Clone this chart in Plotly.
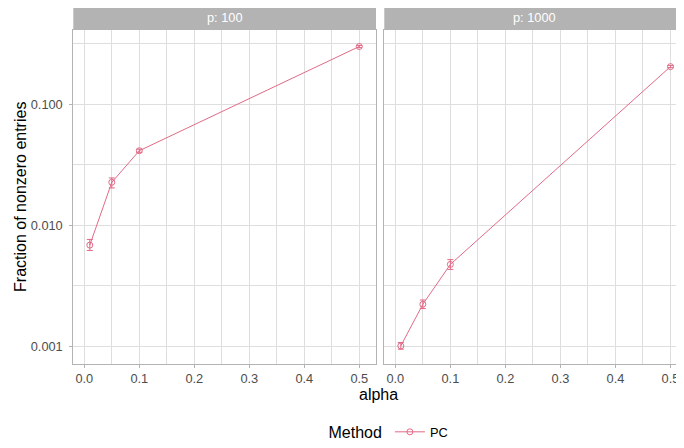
import plotly.graph_objects as go

# ---- data ----
alpha = [0.01, 0.05, 0.1, 0.5]
p100_mean = [0.00684, 0.0226, 0.0412, 0.299]
p100_upper = [0.00762, 0.02455, 0.0424, 0.305]
p100_lower = [0.00618, 0.0203, 0.0400, 0.293]
p1000_mean = [0.001006, 0.00222, 0.00474, 0.204]
p1000_upper = [0.001073, 0.00241, 0.00519, 0.208]
p1000_lower = [0.000945, 0.002047, 0.00431, 0.200]
panel_labels = ["p: 100", "p: 1000"]
method = "PC"
x_ticks = [0.0, 0.1, 0.2, 0.3, 0.4, 0.5]
x_tick_text = ["0.0", "0.1", "0.2", "0.3", "0.4", "0.5"]
y_ticks = [0.001, 0.01, 0.1]
y_tick_text = ["0.001", "0.010", "0.100"]

COLOR = "#E16A86"
GRID = "#DEDEDE"
BORDER = "#B3B3B3"
FONT = "Liberation Sans, Arial, sans-serif"

# the page body has an 8px margin: the figure is placed at (8, 8)
OFF = 8
W, H = 684 - OFF, 448 - OFF

def px(x):
    return (x - OFF) / W

def py(y):
    return (H - (y - OFF)) / H

# screen-pixel layout of the reference
pan1 = (73.3, 376.0)
pan2 = (384.3, 684.0)
pan_top, pan_bot = 30.0, 364.7
strip_top = 5.0

fig = go.Figure()

def add_series(mean, up, lo, xa, ya, show):
    fig.add_trace(go.Scatter(
        x=alpha, y=mean, xaxis=xa, yaxis=ya, mode="lines+markers",
        name=method, showlegend=show,
        line=dict(color=COLOR, width=1),
        marker=dict(symbol="circle-open", size=6, color=COLOR, line=dict(width=1)),
        error_y=dict(type="data", symmetric=False,
                     array=[u - m for u, m in zip(up, mean)],
                     arrayminus=[m - l for m, l in zip(mean, lo)],
                     color=COLOR, thickness=1, width=3),
    ))

add_series(p100_mean, p100_upper, p100_lower, "x", "y", True)
add_series(p1000_mean, p1000_upper, p1000_lower, "x2", "y2", False)

ydom = [py(pan_bot), py(pan_top)]

def xaxis(dom, rng, mirror):
    return dict(domain=dom, range=rng, tickvals=x_ticks, ticktext=x_tick_text,
                showgrid=True, gridcolor=GRID, gridwidth=1,
                minor=dict(tickvals=[0.05, 0.15, 0.25, 0.35, 0.45], showgrid=True,
                           gridcolor=GRID, gridwidth=0.7, ticklen=0),
                showline=True, linecolor=BORDER, linewidth=1, mirror=mirror,
                ticks="outside", ticklen=3, tickcolor=BORDER, tickwidth=1,
                tickfont=dict(size=12.8, color="#4D4D4D", family=FONT),
                zeroline=False, automargin=False, fixedrange=True)

def yaxis(anchor, showlabels, mirror):
    return dict(domain=ydom, type="log", range=[-3.146, -0.3875], anchor=anchor,
                tickvals=y_ticks, ticktext=y_tick_text, showticklabels=showlabels,
                showgrid=True, gridcolor=GRID, gridwidth=1,
                minor=dict(tickvals=[10 ** -2.5, 10 ** -1.5, 10 ** -0.5], showgrid=True,
                           gridcolor=GRID, gridwidth=0.7, ticklen=0),
                showline=True, linecolor=BORDER, linewidth=1, mirror=mirror,
                ticks="outside" if showlabels else "", ticklen=3, tickcolor=BORDER, tickwidth=1,
                ticklabelstandoff=4,
                tickfont=dict(size=12.8, color="#4D4D4D", family=FONT),
                zeroline=False, automargin=False, fixedrange=True)

x1dom = [px(pan1[0]), px(pan1[1])]
x2dom = [px(pan2[0]), 1.0]

fig.update_layout(
    width=W, height=H, margin=dict(l=0, r=0, t=0, b=0),
    paper_bgcolor="white", plot_bgcolor="white",
    font=dict(family=FONT, color="black"),
    xaxis=xaxis(x1dom, [-0.02, 0.5304], True) | dict(anchor="y"),
    yaxis=yaxis("x", True, True),
    xaxis2=xaxis(x2dom, [-0.02, 0.5245], True) | dict(anchor="y2"),
    yaxis2=yaxis("x2", False, False),
    showlegend=True,
    legend=dict(orientation="h", x=px(390), xanchor="center", y=py(433), yanchor="middle",
                title=dict(text="Method", font=dict(size=16, family=FONT, color="black")),
                font=dict(size=12.8, family=FONT, color="black"),
                itemwidth=30, bgcolor="rgba(0,0,0,0)"),
)

# strips
for (x0, x1), lab in zip([pan1, pan2], panel_labels):
    fig.add_shape(type="rect", xref="paper", yref="paper",
                  x0=px(x0), x1=min(px(x1), 1.0),
                  y0=py(pan_top), y1=py(strip_top),
                  fillcolor=BORDER, line=dict(width=0), layer="above")
    fig.add_annotation(xref="paper", yref="paper", x=px((x0 + x1) / 2),
                       y=py((pan_top + strip_top) / 2), text=lab, showarrow=False,
                       font=dict(size=12.8, color="white", family=FONT),
                       xanchor="center", yanchor="middle")

# axis titles
fig.add_annotation(xref="paper", yref="paper", x=px(378.5), y=py(395), text="alpha",
                   showarrow=False, font=dict(size=16, family=FONT, color="black"),
                   xanchor="center", yanchor="middle")
fig.add_annotation(xref="paper", yref="paper", x=px(21), y=py((pan_top + pan_bot) / 2),
                   text="Fraction of nonzero entries", textangle=-90,
                   showarrow=False, font=dict(size=16, family=FONT, color="black"),
                   xanchor="center", yanchor="middle")

fig.write_html("out.html")
